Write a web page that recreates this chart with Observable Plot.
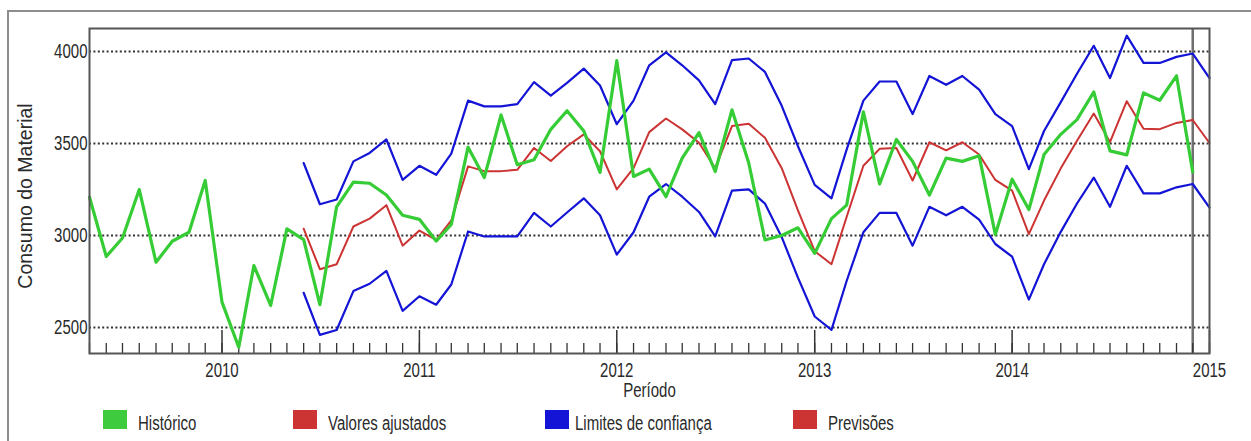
<!DOCTYPE html>
<html><head><meta charset="utf-8">
<script src="https://cdn.jsdelivr.net/npm/d3@7"></script>
<script src="https://cdn.jsdelivr.net/npm/@observablehq/plot@0.6"></script>
<style>
html,body{margin:0;padding:0;background:#fff;}
#wrap{position:relative;width:1251px;height:441px;overflow:hidden;font-family:"Liberation Sans",Arial,sans-serif;}
#border{position:absolute;left:7px;top:10px;width:1300px;height:500px;border-left:2px solid #8d8d8d;border-top:2px solid #8d8d8d;pointer-events:none;z-index:2;}
#legend{position:relative;height:41px;}
.sw{position:absolute;top:10px;width:24px;height:19px;}
.lt{position:absolute;top:12.5px;font-size:20px;line-height:20px;color:#2a2a2a;white-space:nowrap;transform:scaleX(0.75);transform-origin:0 50%;}
</style></head>
<body><div id="wrap"><div id="border"></div><div id="chart"></div><div id="legend"></div></div>
<script>
// ---- data ----
const firstMonth = "2009-05";   // first category (May 2009)
const lastMonth = "2015-01";    // last category (Jan 2015)
const yTicks = [2500, 3000, 3500, 4000];
const yearTicks = ["2010", "2011", "2012", "2013", "2014", "2015"];
const xTitle = "Período";
const yTitle = "Consumo do Material";
const legendLabels = ["Histórico", "Valores ajustados", "Limites de confiança", "Previsões"];
const legendColors = ["#3ecc3e", "#cc3333", "#1414d6", "#cc3333"];

// Histórico: May 2009 .. Dec 2014
const historico = [3208, 2886, 2987, 3250, 2855, 2969, 3018, 3299,
  2638, 2393, 2837, 2620, 3036, 2978, 2624, 3156, 3290, 3284, 3220, 3110,
  3088, 2970, 3060, 3480, 3315, 3655, 3385, 3412, 3577, 3678, 3568, 3343,
  3950, 3321, 3361, 3211, 3421, 3559, 3348, 3683, 3394, 2976, 3000, 3042,
  2903, 3092, 3165, 3672, 3280, 3522, 3403, 3220, 3421, 3403, 3434, 3005,
  3306, 3141, 3440, 3550, 3630, 3780, 3460, 3438, 3775, 3735, 3868, 3346];
// Valores ajustados: Jun 2010 .. Dec 2014
const ajustados = [3037, 2817, 2844, 3049, 3092, 3165, 2945,
  3027, 2976, 3082, 3376, 3350, 3350, 3357, 3476, 3405, 3485, 3550, 3458,
  3251, 3366, 3562, 3636, 3577, 3504, 3366, 3595, 3608, 3531, 3366, 3137,
  2915, 2844, 3101, 3379, 3471, 3476, 3299, 3507, 3463, 3507, 3440, 3302,
  3244, 3008, 3190, 3365, 3515, 3663, 3508, 3730, 3580, 3578, 3612, 3628];
// Previsões: Dec 2014 .. Jan 2015
const previsoes = [3628, 3503];
// Limites de confiança (superior / inferior): Jun 2010 .. Jan 2015
const limiteSup = [3394, 3170, 3196, 3403, 3449, 3522, 3302,
  3379, 3330, 3445, 3733, 3702, 3702, 3714, 3834, 3760, 3830, 3907, 3815,
  3605, 3733, 3925, 3995, 3925, 3843, 3714, 3953, 3962, 3889, 3705, 3485,
  3275, 3202, 3467, 3733, 3837, 3837, 3660, 3867, 3819, 3867, 3793, 3660,
  3595, 3361, 3568, 3725, 3879, 4031, 3856, 4086, 3938, 3938, 3971, 3989,
  3855];
const limiteInf = [2689, 2460, 2487, 2698, 2738, 2808, 2591,
  2670, 2624, 2734, 3022, 2995, 2995, 2995, 3123, 3049, 3125, 3202, 3110,
  2896, 3018, 3211, 3280, 3211, 3128, 2995, 3244, 3251, 3174, 2991, 2771,
  2560, 2487, 2753, 3018, 3123, 3123, 2945, 3156, 3110, 3156, 3086, 2954,
  2885, 2652, 2844, 3020, 3174, 3315, 3156, 3379, 3229, 3229, 3262, 3280,
  3152];

// ---- build ----
const parseM = d3.utcParse("%Y-%m");
const start = parseM(firstMonth), end = parseM(lastMonth);
const months = d3.utcMonth.range(start, d3.utcMonth.offset(end, 1));
const years = yearTicks.map(d3.utcParse("%Y"));
const series = (vals, offset) => vals.map((v, i) => ({date: months[offset + i], value: v}));
const hist = series(historico, 0);
const fit = series(ajustados, 13);
const prev = series(previsoes, 67);
const sup = series(limiteSup, 13);
const inf = series(limiteInf, 13);

const chart = Plot.plot({
  width: 1251, height: 400,
  marginLeft: 89, marginRight: 42, marginTop: 28, marginBottom: 47,
  style: {background: "transparent", fontFamily: "Liberation Sans, Arial, sans-serif", color: "#2a2a2a"},
  x: {type: "utc", domain: [start, end]},
  y: {domain: [2359, 4125]},
  marks: [
    Plot.ruleY(yTicks, {stroke: "#333", strokeWidth: 2, strokeDasharray: "2,2.4"}),
    Plot.ruleX([months[67]], {stroke: "#6e6e6e", strokeWidth: 2.5}),
    Plot.tickX(months, {x: d => d, insetTop: 315, stroke: "#333", strokeWidth: 1.3}),
    Plot.tickX(years, {x: d => d, insetTop: 302, stroke: "#333", strokeWidth: 1.5}),
    Plot.line(inf, {x: "date", y: "value", stroke: legendColors[2], strokeWidth: 2.2}),
    Plot.line(sup, {x: "date", y: "value", stroke: legendColors[2], strokeWidth: 2.2}),
    Plot.line(fit, {x: "date", y: "value", stroke: legendColors[1], strokeWidth: 2}),
    Plot.line(prev, {x: "date", y: "value", stroke: legendColors[3], strokeWidth: 2}),
    Plot.line(hist, {x: "date", y: "value", stroke: "#35cc35", strokeWidth: 3.2}),
    Plot.frame({stroke: "#555", strokeWidth: 2}),
    Plot.axisY({ticks: yTicks, tickSize: 0, tickPadding: 2, fontSize: 20, label: null, tickFormat: d => String(d)}),
    Plot.axisX({ticks: years, tickSize: 0, tickPadding: 9, fontSize: 20, label: null, tickFormat: d3.utcFormat("%Y")}),
    Plot.text([xTitle], {frameAnchor: "bottom", dy: 37, fontSize: 20, lineAnchor: "middle", fill: "#2a2a2a"}),
    Plot.text([yTitle], {frameAnchor: "left", dx: -64, dy: 5, rotate: -90, textAnchor: "middle", fontSize: 19.5, lineAnchor: "middle", fill: "#2a2a2a"})
  ]
});
document.getElementById("chart").append(chart);

// narrow the horizontal labels like the original font
chart.querySelectorAll("text").forEach(t => {
  if (t.textContent === yTitle) return;
  const w = t.getComputedTextLength();
  t.setAttribute("textLength", (w * 0.75).toFixed(2));
  t.setAttribute("lengthAdjust", "spacingAndGlyphs");
});

// legend
const swLeft = [103, 292.5, 545, 793];
const txLeft = [138, 328, 575, 827.5];
const legend = document.getElementById("legend");
legendLabels.forEach((lab, i) => {
  const s = document.createElement("div");
  s.className = "sw"; s.style.left = swLeft[i] + "px"; s.style.background = legendColors[i];
  const t = document.createElement("div");
  t.className = "lt"; t.style.left = txLeft[i] + "px"; t.textContent = lab;
  legend.append(s, t);
});
</script>
</body></html>
